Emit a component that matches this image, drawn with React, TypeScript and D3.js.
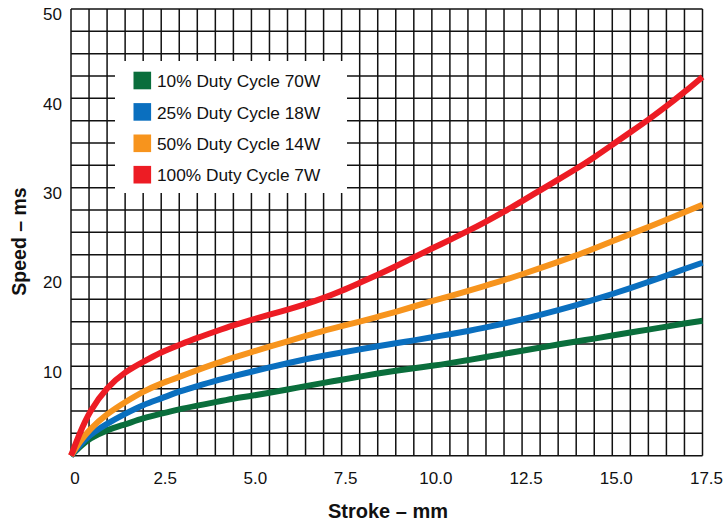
import { scaleLinear, line as d3Line, curveBasis, range } from "d3";

const width = 724;
const height = 523;

// stroke positions (mm) the curves were read at
const stroke = [0, 0.25, 0.5, 1, 1.5, 2, 2.5, 3, 3.5, 4, 4.5, 5, 5.5, 6, 6.5, 7, 7.5, 8, 8.5, 9, 9.5, 10, 10.5, 11, 11.5, 12, 12.5, 13, 13.5, 14, 14.5, 15, 15.5, 16, 16.5, 17, 17.5];

const duty10 = [0, 1.0, 1.9, 2.9, 3.5, 4.2, 4.7, 5.2, 5.6, 6.0, 6.4, 6.7, 7.05, 7.4, 7.8, 8.15, 8.5, 8.85, 9.2, 9.5, 9.8, 10.05, 10.35, 10.7, 11.05, 11.4, 11.75, 12.1, 12.45, 12.8, 13.1, 13.45, 13.8, 14.1, 14.45, 14.8, 15.1];
const duty25 = [0, 1.2, 2.3, 3.6, 4.7, 5.7, 6.4, 7.2, 7.8, 8.4, 8.9, 9.4, 9.9, 10.35, 10.8, 11.2, 11.55, 11.9, 12.25, 12.6, 12.9, 13.25, 13.6, 13.95, 14.35, 14.8, 15.25, 15.75, 16.3, 16.85, 17.45, 18.1, 18.75, 19.45, 20.15, 20.9, 21.6];
const duty50 = [0, 1.6, 2.9, 4.7, 6.0, 7.2, 8.1, 8.8, 9.6, 10.3, 11.0, 11.6, 12.2, 12.8, 13.4, 14.0, 14.5, 15.0, 15.55, 16.1, 16.7, 17.3, 17.85, 18.45, 19.05, 19.65, 20.3, 21.0, 21.7, 22.4, 23.2, 24.0, 24.8, 25.6, 26.4, 27.25, 28.1];
const duty100 = [0, 2.6, 4.9, 7.7, 9.4, 10.5, 11.6, 12.4, 13.2, 13.9, 14.6, 15.2, 15.8, 16.35, 16.95, 17.65, 18.45, 19.35, 20.25, 21.2, 22.2, 23.2, 24.15, 25.15, 26.2, 27.3, 28.5, 29.7, 30.9, 32.1, 33.4, 34.8, 36.2, 37.6, 39.1, 40.7, 42.4];

const seriesNames = ["10% Duty Cycle 70W", "25% Duty Cycle 18W", "50% Duty Cycle 14W", "100% Duty Cycle 7W"];
const seriesColors = ["#0a6e3c", "#0a6fbf", "#f7941d", "#ed1c24"];
const seriesValues = [duty10, duty25, duty50, duty100];

const xTicks = [0, 2.5, 5, 7.5, 10, 12.5, 15, 17.5];
const xTickLabels = ["0", "2.5", "5.0", "7.5", "10.0", "12.5", "15.0", "17.5"];
const yTicks = [10, 20, 30, 40, 50];

const plot = { left: 71, right: 702.5, top: 9, bottom: 455.7 };
const legendBox = { x: 115, y: 61, w: 232, h: 132 };
const font = "'Liberation Sans', Arial, Helvetica, sans-serif";

export default function App() {
  const x = scaleLinear().domain([0, 17.5]).range([plot.left, plot.right]);
  const y = scaleLinear().domain([0, 50]).range([plot.bottom, plot.top]);

  const path = d3Line<number>()
    .x((_, i) => x(stroke[i]))
    .y((d) => y(d))
    .curve(curveBasis);

  const vGrid = range(0, 17.5 + 0.01, 0.5);
  const hGrid = range(0, 50 + 0.01, 2.5);

  return (
    <svg
      width={width}
      height={height}
      viewBox={`0 0 ${width} ${height}`}
      style={{ position: "fixed", left: 0, top: 0, background: "#fff" }}
    >
      <rect width={width} height={height} fill="#fff" />
      <g stroke="#111" strokeWidth={1.5}>
        {vGrid.map((v) => (
          <line key={`v${v}`} x1={x(v)} x2={x(v)} y1={plot.top} y2={plot.bottom} />
        ))}
        {hGrid.map((v) => (
          <line key={`h${v}`} x1={plot.left} x2={plot.right} y1={y(v)} y2={y(v)} />
        ))}
      </g>

      <rect x={legendBox.x} y={legendBox.y} width={legendBox.w} height={legendBox.h} fill="#fff" />

      {seriesValues.map((vals, i) => (
        <path
          key={seriesNames[i]}
          d={path(vals) ?? undefined}
          fill="none"
          stroke={seriesColors[i]}
          strokeWidth={6}
        />
      ))}

      <g fontFamily={font} fontSize={17.3} fill="#111">
        {seriesNames.map((name, i) => {
          const cy = 80.5 + i * 31.4;
          return (
            <g key={name}>
              <rect x={133.5} y={cy - 8.8} width={17.6} height={17.6} fill={seriesColors[i]} />
              <text x={157} y={cy + 0.5} dy="0.36em">
                {name}
              </text>
            </g>
          );
        })}
      </g>

      <g fontFamily={font} fontSize={17} fill="#111">
        {yTicks.map((t) => (
          <text key={t} x={62} y={y(t) + 5.5} textAnchor="end" dy="0.35em">
            {t}
          </text>
        ))}
        {xTicks.map((t, i) => (
          <text key={t} x={x(t) + 4} y={478} textAnchor="middle" dy="0.35em">
            {xTickLabels[i]}
          </text>
        ))}
      </g>

      <text
        x={388}
        y={511}
        dy="0.35em"
        textAnchor="middle"
        fontFamily={font}
        fontWeight="bold"
        fontSize={20}
        fill="#111"
      >
        Stroke – mm
      </text>
      <text
        transform="translate(19.5,241.5) rotate(-90)"
        dy="0.35em"
        textAnchor="middle"
        fontFamily={font}
        fontWeight="bold"
        fontSize={19.5}
        fill="#111"
      >
        Speed – ms
      </text>
    </svg>
  );
}
